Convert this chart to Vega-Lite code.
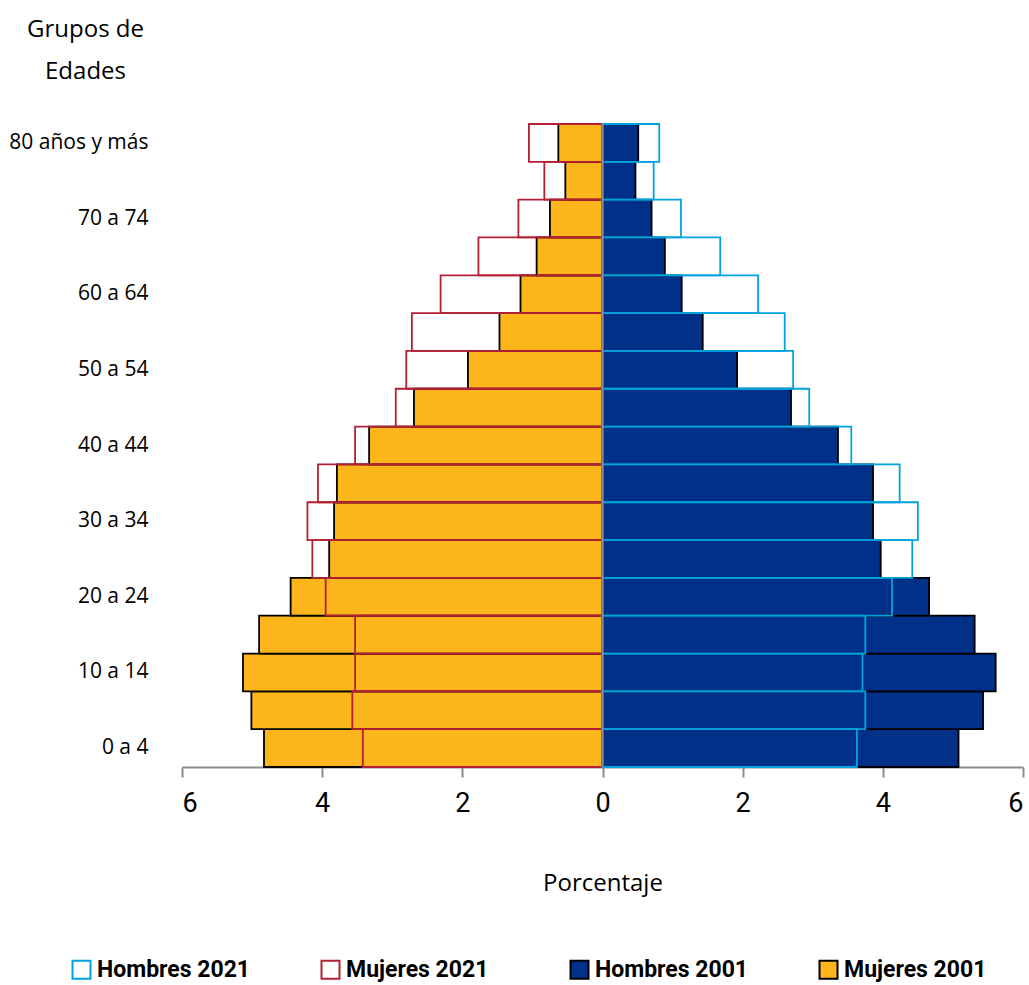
{
  "$schema": "https://vega.github.io/schema/vega-lite/v6.json",
  "width": 841,
  "height": 643,
  "autosize": {"type": "none"},
  "padding": {"left": 182, "top": 124, "right": 6, "bottom": 218},
  "background": "white",
  "config": {"view": {"stroke": null}, "font": "Open Sans"},
  "layer": [
    {
      "data": {
        "values": [
          {"grupo": "0 a 4", "sexo": "Mujeres", "anio": "2001", "pct": 4.83},
          {"grupo": "5 a 9", "sexo": "Mujeres", "anio": "2001", "pct": 5.01},
          {"grupo": "10 a 14", "sexo": "Mujeres", "anio": "2001", "pct": 5.13},
          {"grupo": "15 a 19", "sexo": "Mujeres", "anio": "2001", "pct": 4.9},
          {"grupo": "20 a 24", "sexo": "Mujeres", "anio": "2001", "pct": 4.45},
          {"grupo": "25 a 29", "sexo": "Mujeres", "anio": "2001", "pct": 3.9},
          {"grupo": "30 a 34", "sexo": "Mujeres", "anio": "2001", "pct": 3.83},
          {"grupo": "35 a 39", "sexo": "Mujeres", "anio": "2001", "pct": 3.79},
          {"grupo": "40 a 44", "sexo": "Mujeres", "anio": "2001", "pct": 3.33},
          {"grupo": "45 a 49", "sexo": "Mujeres", "anio": "2001", "pct": 2.69},
          {"grupo": "50 a 54", "sexo": "Mujeres", "anio": "2001", "pct": 1.92},
          {"grupo": "55 a 59", "sexo": "Mujeres", "anio": "2001", "pct": 1.47},
          {"grupo": "60 a 64", "sexo": "Mujeres", "anio": "2001", "pct": 1.17},
          {"grupo": "65 a 69", "sexo": "Mujeres", "anio": "2001", "pct": 0.94},
          {"grupo": "70 a 74", "sexo": "Mujeres", "anio": "2001", "pct": 0.75},
          {"grupo": "75 a 79", "sexo": "Mujeres", "anio": "2001", "pct": 0.53},
          {"grupo": "80 años y más", "sexo": "Mujeres", "anio": "2001", "pct": 0.63},
          {"grupo": "0 a 4", "sexo": "Hombres", "anio": "2001", "pct": 5.08},
          {"grupo": "5 a 9", "sexo": "Hombres", "anio": "2001", "pct": 5.43},
          {"grupo": "10 a 14", "sexo": "Hombres", "anio": "2001", "pct": 5.61},
          {"grupo": "15 a 19", "sexo": "Hombres", "anio": "2001", "pct": 5.31},
          {"grupo": "20 a 24", "sexo": "Hombres", "anio": "2001", "pct": 4.66},
          {"grupo": "25 a 29", "sexo": "Hombres", "anio": "2001", "pct": 3.97},
          {"grupo": "30 a 34", "sexo": "Hombres", "anio": "2001", "pct": 3.86},
          {"grupo": "35 a 39", "sexo": "Hombres", "anio": "2001", "pct": 3.86},
          {"grupo": "40 a 44", "sexo": "Hombres", "anio": "2001", "pct": 3.36},
          {"grupo": "45 a 49", "sexo": "Hombres", "anio": "2001", "pct": 2.69},
          {"grupo": "50 a 54", "sexo": "Hombres", "anio": "2001", "pct": 1.92},
          {"grupo": "55 a 59", "sexo": "Hombres", "anio": "2001", "pct": 1.43},
          {"grupo": "60 a 64", "sexo": "Hombres", "anio": "2001", "pct": 1.13},
          {"grupo": "65 a 69", "sexo": "Hombres", "anio": "2001", "pct": 0.89},
          {"grupo": "70 a 74", "sexo": "Hombres", "anio": "2001", "pct": 0.7},
          {"grupo": "75 a 79", "sexo": "Hombres", "anio": "2001", "pct": 0.47},
          {"grupo": "80 años y más", "sexo": "Hombres", "anio": "2001", "pct": 0.51},
          {"grupo": "0 a 4", "sexo": "Mujeres", "anio": "2021", "pct": 3.42},
          {"grupo": "5 a 9", "sexo": "Mujeres", "anio": "2021", "pct": 3.57},
          {"grupo": "10 a 14", "sexo": "Mujeres", "anio": "2021", "pct": 3.53},
          {"grupo": "15 a 19", "sexo": "Mujeres", "anio": "2021", "pct": 3.53},
          {"grupo": "20 a 24", "sexo": "Mujeres", "anio": "2021", "pct": 3.95},
          {"grupo": "25 a 29", "sexo": "Mujeres", "anio": "2021", "pct": 4.14},
          {"grupo": "30 a 34", "sexo": "Mujeres", "anio": "2021", "pct": 4.21},
          {"grupo": "35 a 39", "sexo": "Mujeres", "anio": "2021", "pct": 4.06},
          {"grupo": "40 a 44", "sexo": "Mujeres", "anio": "2021", "pct": 3.53},
          {"grupo": "45 a 49", "sexo": "Mujeres", "anio": "2021", "pct": 2.95},
          {"grupo": "50 a 54", "sexo": "Mujeres", "anio": "2021", "pct": 2.8},
          {"grupo": "55 a 59", "sexo": "Mujeres", "anio": "2021", "pct": 2.72},
          {"grupo": "60 a 64", "sexo": "Mujeres", "anio": "2021", "pct": 2.31},
          {"grupo": "65 a 69", "sexo": "Mujeres", "anio": "2021", "pct": 1.77},
          {"grupo": "70 a 74", "sexo": "Mujeres", "anio": "2021", "pct": 1.2},
          {"grupo": "75 a 79", "sexo": "Mujeres", "anio": "2021", "pct": 0.83},
          {"grupo": "80 años y más", "sexo": "Mujeres", "anio": "2021", "pct": 1.05},
          {"grupo": "0 a 4", "sexo": "Hombres", "anio": "2021", "pct": 3.63},
          {"grupo": "5 a 9", "sexo": "Hombres", "anio": "2021", "pct": 3.75},
          {"grupo": "10 a 14", "sexo": "Hombres", "anio": "2021", "pct": 3.71},
          {"grupo": "15 a 19", "sexo": "Hombres", "anio": "2021", "pct": 3.75},
          {"grupo": "20 a 24", "sexo": "Hombres", "anio": "2021", "pct": 4.13},
          {"grupo": "25 a 29", "sexo": "Hombres", "anio": "2021", "pct": 4.42},
          {"grupo": "30 a 34", "sexo": "Hombres", "anio": "2021", "pct": 4.5},
          {"grupo": "35 a 39", "sexo": "Hombres", "anio": "2021", "pct": 4.24},
          {"grupo": "40 a 44", "sexo": "Hombres", "anio": "2021", "pct": 3.55},
          {"grupo": "45 a 49", "sexo": "Hombres", "anio": "2021", "pct": 2.95},
          {"grupo": "50 a 54", "sexo": "Hombres", "anio": "2021", "pct": 2.72},
          {"grupo": "55 a 59", "sexo": "Hombres", "anio": "2021", "pct": 2.6},
          {"grupo": "60 a 64", "sexo": "Hombres", "anio": "2021", "pct": 2.22},
          {"grupo": "65 a 69", "sexo": "Hombres", "anio": "2021", "pct": 1.68},
          {"grupo": "70 a 74", "sexo": "Hombres", "anio": "2021", "pct": 1.12},
          {"grupo": "75 a 79", "sexo": "Hombres", "anio": "2021", "pct": 0.73},
          {"grupo": "80 años y más", "sexo": "Hombres", "anio": "2021", "pct": 0.81}
        ]
      },
      "transform": [
        {"calculate": "datum.sexo === 'Mujeres' ? -datum.pct : datum.pct", "as": "valor"},
        {"calculate": "datum.sexo + ' ' + datum.anio", "as": "serie"}
      ],
      "mark": {"type": "bar", "orient": "horizontal", "strokeWidth": 1.8},
      "encoding": {
        "y": {
          "field": "grupo",
          "type": "nominal",
          "scale": {
            "domain": ["80 años y más", "75 a 79", "70 a 74", "65 a 69", "60 a 64", "55 a 59", "50 a 54", "45 a 49", "40 a 44", "35 a 39", "30 a 34", "25 a 29", "20 a 24", "15 a 19", "10 a 14", "5 a 9", "0 a 4"],
            "paddingInner": 0,
            "paddingOuter": 0
          },
          "axis": {
            "values": ["80 años y más", "70 a 74", "60 a 64", "50 a 54", "40 a 44", "30 a 34", "20 a 24", "10 a 14", "0 a 4"],
            "domain": false,
            "ticks": false,
            "labelPadding": 34,
            "labelFont": "Open Sans",
            "labelFontSize": 21,
            "labelColor": "#000000",
            "title": ["Grupos de", "Edades"],
            "titleAngle": 0,
            "titleAlign": "center",
            "titleBaseline": "top",
            "titleX": -97,
            "titleY": -107,
            "titleFont": "Open Sans",
            "titleFontSize": 24,
            "titleFontWeight": "normal",
            "titleLineHeight": 42,
            "titleColor": "#000000"
          }
        },
        "x": {
          "field": "valor",
          "type": "quantitative",
          "stack": null,
          "scale": {"domain": [-6, 6], "nice": false, "zero": false},
          "axis": {
            "values": [-6, -4, -2, 0, 2, 4, 6],
            "labelExpr": "abs(datum.value)",
            "grid": false,
            "domainColor": "#8c8c8c",
            "domainWidth": 2,
            "tickColor": "#8c8c8c",
            "tickWidth": 2,
            "tickSize": 10,
            "labelFont": "Roboto",
            "labelFontSize": 27,
            "labelPadding": 13,
            "labelColor": "#000000",
            "title": "Porcentaje",
            "titleFont": "Open Sans",
            "titleFontSize": 24,
            "titleFontWeight": "normal",
            "titleColor": "#000000",
            "titlePadding": 55
          }
        },
        "fill": {
          "field": "serie",
          "type": "nominal",
          "scale": {
            "domain": ["Hombres 2021", "Mujeres 2021", "Hombres 2001", "Mujeres 2001"],
            "range": ["transparent", "transparent", "#003087", "#FDB51C"]
          },
          "legend": {
            "orient": "none",
            "legendX": -112,
            "legendY": 834,
            "direction": "horizontal",
            "columns": 4,
            "gridAlign": "all",
            "title": null,
            "symbolType": "square",
            "symbolSize": 324,
            "symbolStrokeWidth": 2,
            "labelFont": "Roboto",
            "labelFontSize": 23,
            "labelFontWeight": "bold",
            "labelColor": "#000000",
            "labelOffset": 4,
            "columnPadding": 66,
            "labelLimit": 300
          }
        },
        "stroke": {
          "field": "serie",
          "type": "nominal",
          "scale": {
            "domain": ["Hombres 2021", "Mujeres 2021", "Hombres 2001", "Mujeres 2001"],
            "range": ["#00A3E0", "#B41F34", "#000000", "#000000"]
          },
          "legend": {
            "orient": "none",
            "legendX": -112,
            "legendY": 834,
            "direction": "horizontal",
            "columns": 4,
            "gridAlign": "all",
            "title": null,
            "symbolType": "square",
            "symbolSize": 324,
            "symbolStrokeWidth": 2,
            "labelFont": "Roboto",
            "labelFontSize": 23,
            "labelFontWeight": "bold",
            "labelColor": "#000000",
            "labelOffset": 4,
            "columnPadding": 66,
            "labelLimit": 300
          }
        }
      }
    },
    {
      "data": {"values": [{"v": 0}]},
      "mark": {"type": "rule", "color": "#8c8c8c", "strokeWidth": 2},
      "encoding": {"x": {"field": "v", "type": "quantitative"}}
    }
  ]
}
